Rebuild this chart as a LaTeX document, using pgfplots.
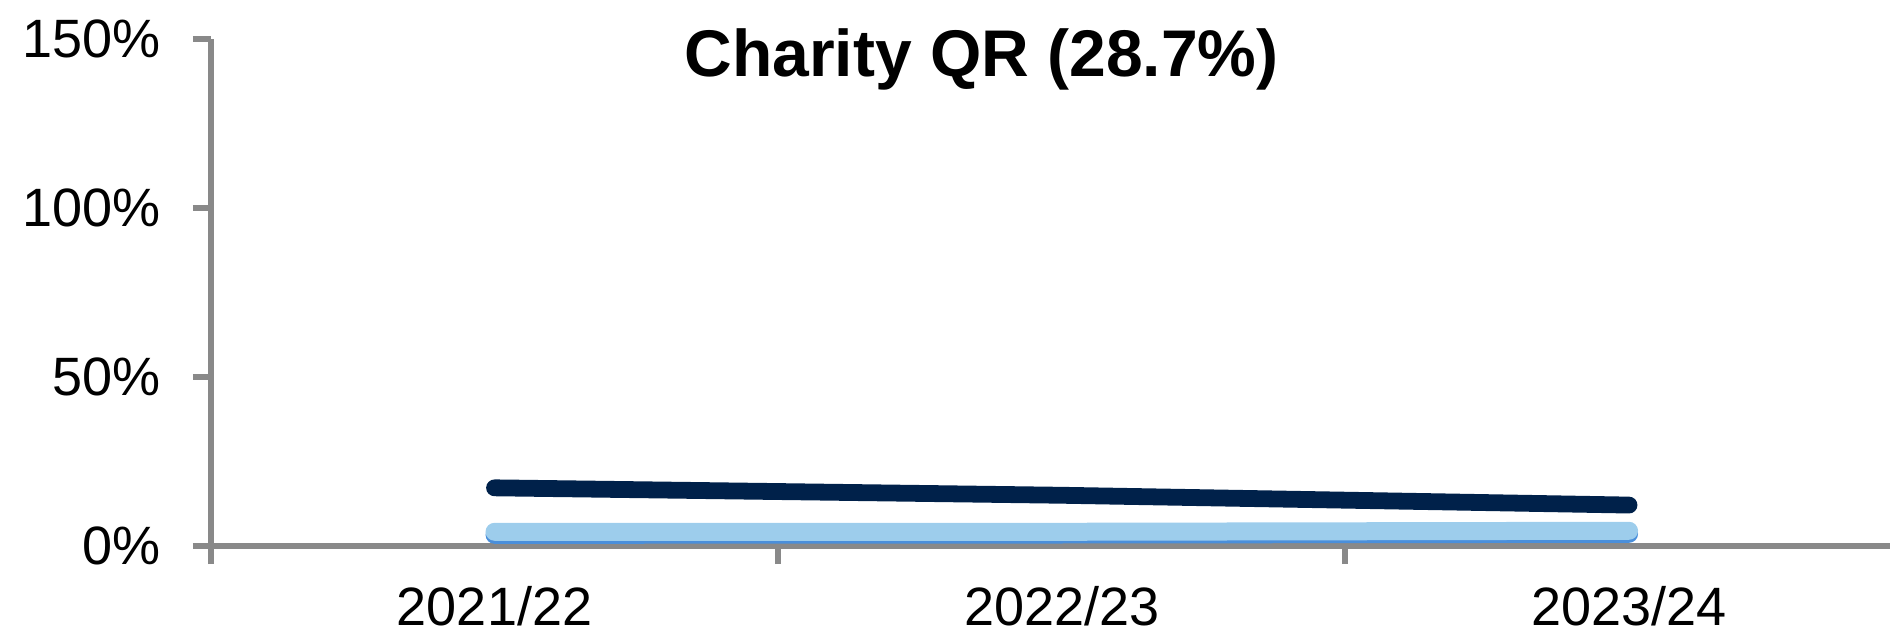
\documentclass[border=0pt]{standalone}
\usepackage{pgfplots}
\pgfplotsset{compat=1.18}
\usepackage{fontspec}
\setmainfont{Liberation Sans}
\definecolor{axgray}{HTML}{898989}
\definecolor{navy}{HTML}{00214A}
\definecolor{lightblue}{HTML}{9DCDEC}
\definecolor{midblue}{HTML}{4A8FDB}
\begin{document}
\begin{tikzpicture}
\useasboundingbox (-70.3pt,-32pt) rectangle (559.7pt,182pt);
\begin{axis}[
  at={(0,0)}, anchor=south west,
  scale only axis, width=559.7pt, height=169.1pt,
  xmin=-0.5, xmax=2.46, ymin=0, ymax=150,
  axis x line=bottom, axis y line=left,
  axis line style={-, draw=axgray, line width=2pt},
  tick align=outside, major tick length=6pt,
  tick style={draw=axgray, line width=2pt},
  ytick={0,50,100,150}, yticklabels={0\%,50\%,100\%,150\%},
  yticklabel style={xshift=-7.3pt},
  xtick={-0.5,0.5,1.5}, xticklabels={},
  extra x ticks={0,1,2},
  extra x tick labels={2021/22,2022/23,2023/24},
  extra x tick style={major tick length=0pt, xticklabel style={yshift=-10pt}},
  ticklabel style={font=\fontsize{18}{21}\selectfont, text=black},
  /pgf/number format/assume math mode=true,
  title={\bfseries Charity QR (28.7\%)},
  title style={at={(0.459,0.924)}, anchor=center, font=\fontsize{22}{26}\selectfont},
  clip=false,
]
\addplot[midblue, line width=6pt, line cap=round] coordinates {(0,3.3) (1,3.4) (2,3.6)};
\addplot[lightblue, line width=6pt, line cap=round] coordinates {(0,4.2) (1,4.2) (2,4.5)};
\addplot[navy, line width=5.6pt, line cap=round] coordinates {(0,17.2) (1,15.0) (2,12.1)};
\end{axis}
\end{tikzpicture}
\end{document}
